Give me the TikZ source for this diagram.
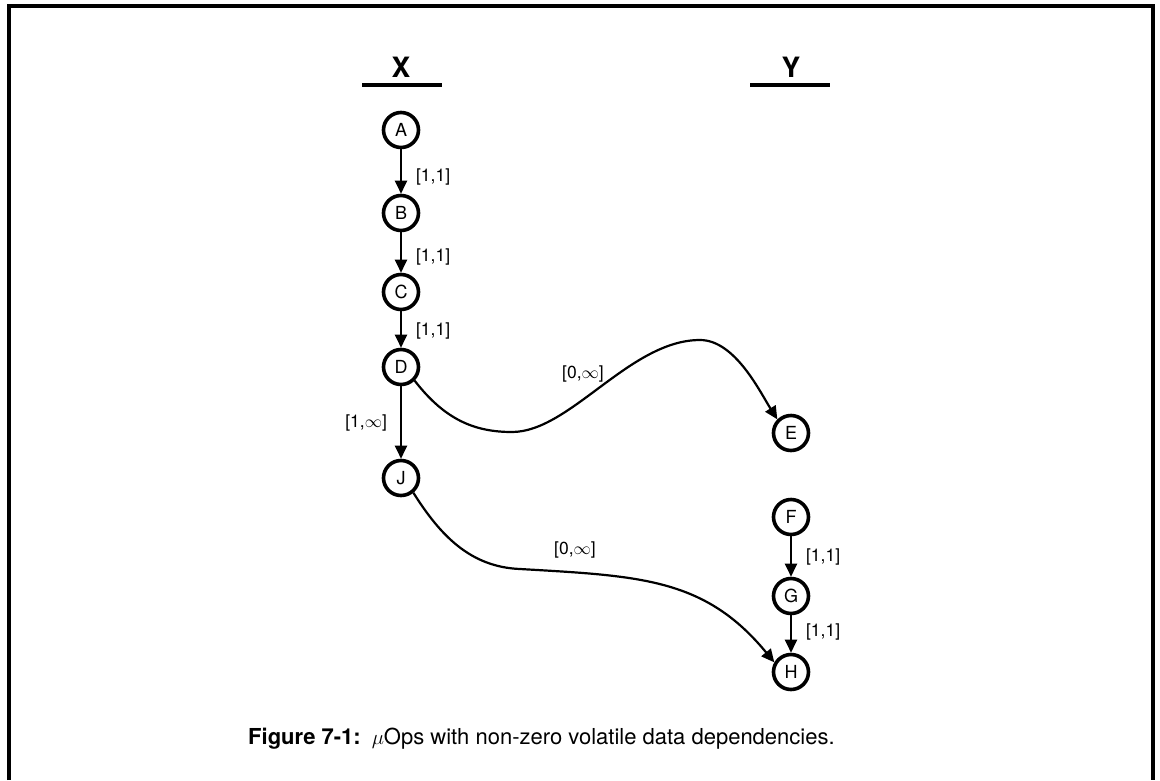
\documentclass[tikz,border=0pt]{standalone}
\usepackage{fontspec}
\setmainfont{TeX Gyre Heros}
\usetikzlibrary{arrows.meta}
\begin{document}
\begin{tikzpicture}[x=1pt,y=-1pt,
  opnode/.style={circle,draw,line width=3.6pt,minimum size=35pt,inner sep=0pt,
    font=\fontsize{18}{18}\selectfont},
  dep/.style={line width=2.2pt,-{Triangle[length=13pt,width=12pt]}},
  edgelab/.style={inner sep=0pt,font=\fontsize{17.5}{17.5}\selectfont},
  colhead/.style={inner sep=0pt,font=\fontsize{28}{28}\selectfont\bfseries},
  headrule/.style={line width=4.5pt}]
  \useasboundingbox (0,0) rectangle (1160,780);
  % open frame around the figure
  \draw[line width=4pt] (9,780) -- (9,6) -- (1153,6) -- (1153,780);

  % column headings
  \node[colhead] (hx) at (401,67) {X};
  \node[colhead] (hy) at (791,67) {Y};
  \draw[headrule] (362,85) -- (442,85);
  \draw[headrule] (750,85) -- (830,85);

  % micro-operations
  \node[opnode] (A) at (401,130) {A};
  \node[opnode] (B) at (401,213) {B};
  \node[opnode] (C) at (401,292) {C};
  \node[opnode] (D) at (401,367) {D};
  \node[opnode] (J) at (401,478) {J};
  \node[opnode] (E) at (791,433) {E};
  \node[opnode] (F) at (791,517) {F};
  \node[opnode] (G) at (791,596) {G};
  \node[opnode] (H) at (791,672) {H};

  % fixed-latency chains
  \draw[dep] (A) -- node[edgelab,right=14pt,pos=0.62] (lab) {[1,1]} (B);
  \draw[dep] (B) -- node[edgelab,right=14pt,pos=0.6] (lbc) {[1,1]} (C);
  \draw[dep] (C) -- node[edgelab,right=14pt,pos=0.55] (lcd) {[1,1]} (D);
  \draw[dep] (D) -- node[edgelab,left=13pt,pos=0.5] (ldj) {[1,$\infty$]} (J);
  \draw[dep] (F) -- node[edgelab,right=14pt,pos=0.5] (lfg) {[1,1]} (G);
  \draw[dep] (G) -- node[edgelab,right=14pt,pos=0.45] (lgh) {[1,1]} (H);

  % volatile dependencies across columns
  \draw[dep] (D.-45) .. controls (445,420) and (475,432) .. (512,432)
    .. controls (570,432) and (630,340) .. (700,340)
    .. controls (735,340) and (760,392) .. (E.north west);
  \node[edgelab] (lde) at (583,374) {[0,$\infty$]};

  \draw[dep] (J.-50) .. controls (440,535) and (470,567) .. (520,569)
    .. controls (640,576) and (705,578) .. (H.150);
  \node[edgelab] (ljh) at (575,550) {[0,$\infty$]};

  % caption
  \node[anchor=base west,inner sep=0pt,font=\fontsize{22}{22}\selectfont] (cap) at (248,744)
    {\textbf{Figure 7-1:}\hspace{11pt}$\mu$Ops with non-zero volatile data dependencies.};
\end{tikzpicture}
\end{document}
